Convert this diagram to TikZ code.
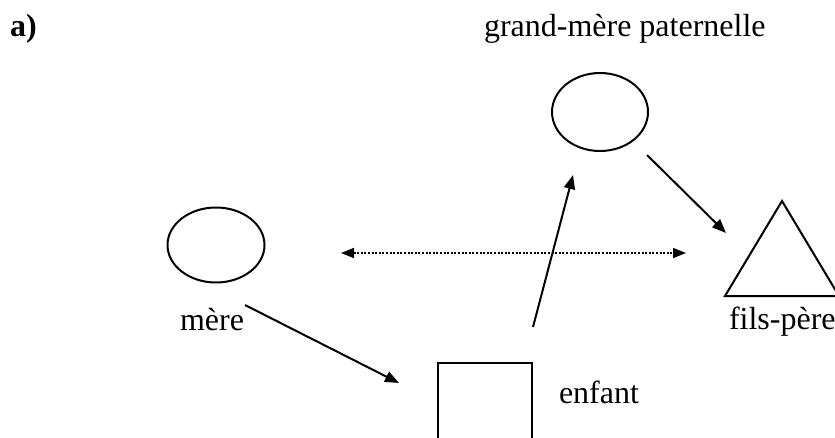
\documentclass[tikz,border=0pt]{standalone}
\usepackage{fontspec}
\setmainfont{Liberation Serif}
\usetikzlibrary{shapes.geometric,arrows.meta}
\begin{document}
\begin{tikzpicture}[x=1pt,y=-1pt,
  line width=2pt,
  lbl/.style={inner sep=0pt,anchor=base west,font=\fontsize{32}{38}\selectfont},
  oval/.style={draw,ellipse,inner sep=0pt},
  arr/.style={-{Triangle[length=14pt,width=11pt]}},
  darr/.style={{Triangle[length=13pt,width=10pt]}-{Triangle[length=13pt,width=10pt]},line width=1.6pt,dash pattern=on 2pt off 1.6pt}]
\useasboundingbox (0,0) rectangle (835,437);
\clip (0,0) rectangle (835,437);
% labels
\node[lbl,font=\fontsize{32}{38}\selectfont\bfseries] (a) at (9,36) {a)};
\node[lbl] (gmlbl) at (483,36) {grand-mère paternelle};
\node[lbl] (merelbl) at (179,330) {mère};
\node[lbl] (filslbl) at (728,329) {fils-père};
\node[lbl] (enflbl) at (558,403) {enfant};
% shapes
\node[oval,minimum width=96pt,minimum height=78pt] (gm) at (600,112) {};
\node[oval,minimum width=97pt,minimum height=75pt] (mere) at (216,245) {};
\coordinate (tA) at (782,201);
\coordinate (tL) at (725,296);
\coordinate (tR) at (839,296);
\draw[line join=miter] (tA) -- (tL) -- (tR) -- cycle;
\node[draw,minimum width=94pt,minimum height=100pt,inner sep=0pt,anchor=north west] (enf) at (437,362) {};
% connector end points
\coordinate (m1) at (245,305);
\coordinate (m2) at (399,383);
\coordinate (u1) at (533,327);
\coordinate (u2) at (573,175);
\coordinate (g1) at (647,155);
\coordinate (g2) at (726,233);
\coordinate (d1) at (341,253);
\coordinate (d2) at (686,253);
\draw[arr] (m1) -- (m2);
\draw[arr] (u1) -- (u2);
\draw[arr] (g1) -- (g2);
\draw[darr] (d1) -- (d2);
\end{tikzpicture}
\end{document}
